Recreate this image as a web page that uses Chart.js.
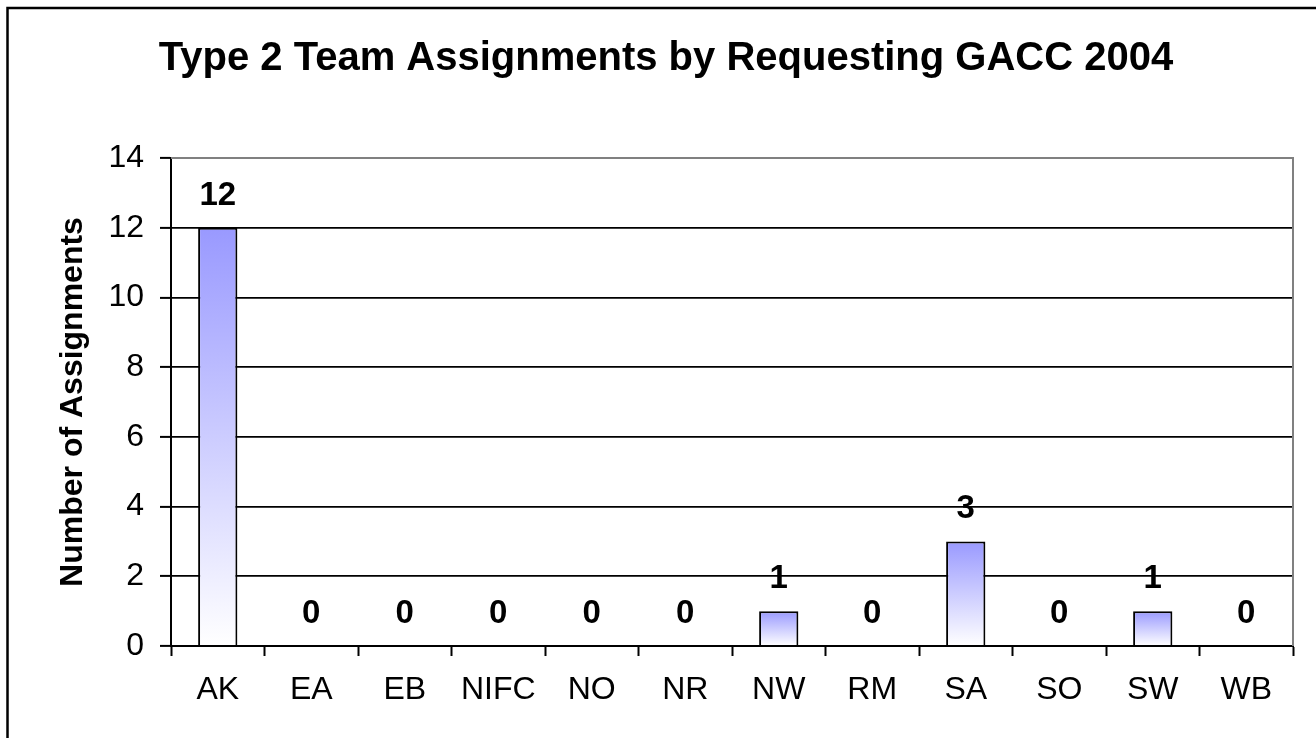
<!DOCTYPE html>
<html>
<head>
<meta charset="utf-8">
<title>Type 2 Team Assignments by Requesting GACC 2004</title>
<script src="https://cdn.jsdelivr.net/npm/chart.js@4.4.1/dist/chart.umd.min.js"></script>
<style>
    html, body { margin: 0; padding: 0; background: #fff; }
    #wrap { width: 1316px; height: 738px; position: relative; }
</style>
</head>
<body>
<div id="wrap"><canvas id="gaccChart" width="1316" height="738"></canvas></div>
<script>
// Chart data
const chartTitle = 'Type 2 Team Assignments by Requesting GACC 2004';
const yAxisTitle = 'Number of Assignments';
const gaccs = ['AK', 'EA', 'EB', 'NIFC', 'NO', 'NR', 'NW', 'RM', 'SA', 'SO', 'SW', 'WB'];
const assignments = [12, 0, 0, 0, 0, 0, 1, 0, 3, 0, 1, 0];
const yTicks = [0, 2, 4, 6, 8, 10, 12, 14];

const FONT = '"Liberation Sans", Arial, Helvetica, sans-serif';

// Vertical gradient per bar: blue at the top, white at the base
function barGradient(ctx) {
    const chart = ctx.chart;
    if (!chart.chartArea || ctx.type !== 'data') return '#9999ff';
    const yScale = chart.scales.y;
    const top = yScale.getPixelForValue(ctx.parsed.y);
    const base = yScale.getPixelForValue(0);
    if (Math.abs(base - top) < 1) return '#ffffff';
    const g = chart.ctx.createLinearGradient(0, top, 0, base);
    g.addColorStop(0, '#9999ff');
    g.addColorStop(1, '#ffffff');
    return g;
}

// Outer frame, plot border and title
const framePlugin = {
    id: 'frame',
    beforeDraw(chart) {
        const c = chart.ctx;
        c.save();
        c.fillStyle = '#fff';
        c.fillRect(0, 0, chart.width, chart.height);
        c.strokeStyle = '#000';
        c.lineWidth = 2.5;
        c.beginPath();
        c.moveTo(7.5, chart.height + 5);
        c.lineTo(7.5, 8);
        c.lineTo(chart.width + 5, 8);
        c.stroke();
        c.restore();
    },
    afterDraw(chart) {
        const c = chart.ctx;
        const a = chart.chartArea;
        c.save();
        c.strokeStyle = '#808080';
        c.lineWidth = 2;
        c.beginPath();
        c.moveTo(a.left, a.top);
        c.lineTo(a.right, a.top);
        c.lineTo(a.right, a.bottom);
        c.stroke();

        c.fillStyle = '#000';
        c.font = 'bold 40px ' + FONT;
        c.textAlign = 'center';
        c.textBaseline = 'alphabetic';
        c.fillText(chartTitle, 666, 70);
        c.restore();
    }
};

// Value labels above each bar
const valueLabels = {
    id: 'valueLabels',
    afterDatasetsDraw(chart) {
        const c = chart.ctx;
        const meta = chart.getDatasetMeta(0);
        c.save();
        c.fillStyle = '#000';
        c.font = 'bold 33px ' + FONT;
        c.textAlign = 'center';
        c.textBaseline = 'alphabetic';
        meta.data.forEach((bar, i) => {
            c.fillText(String(assignments[i]), bar.x, bar.y - 23);
        });
        c.restore();
    }
};

const ctx = document.getElementById('gaccChart');
new Chart(ctx, {
    type: 'bar',
    data: {
        labels: gaccs,
        datasets: [{
            data: assignments,
            backgroundColor: barGradient,
            borderColor: '#000',
            borderWidth: 2,
            borderSkipped: 'start',
            barPercentage: 0.42,
            categoryPercentage: 1
        }]
    },
    options: {
        responsive: false,
        animation: false,
        devicePixelRatio: 1,
        layout: { padding: { top: 158, left: 8, right: 23, bottom: 0 } },
        plugins: {
            legend: { display: false },
            tooltip: { enabled: false },
            title: { display: false }
        },
        scales: {
            x: {
                grid: {
                    drawOnChartArea: false,
                    drawTicks: true,
                    tickLength: 10,
                    tickColor: '#000',
                    tickWidth: 2
                },
                border: { color: '#000', width: 2 },
                ticks: {
                    color: '#000',
                    font: { family: FONT, size: 32 },
                    padding: 15,
                    maxRotation: 0,
                    autoSkip: false
                },
                afterFit(scale) { scale.height = 92; }
            },
            y: {
                min: 0,
                max: 14,
                afterBuildTicks(scale) {
                    scale.ticks = yTicks.map(v => ({ value: v }));
                },
                grid: {
                    color: '#000',
                    lineWidth: 1.8,
                    tickLength: 11,
                    tickColor: '#000',
                    tickWidth: 2
                },
                border: { color: '#000', width: 2 },
                ticks: {
                    color: '#000',
                    font: { family: FONT, size: 32 },
                    padding: 16
                },
                title: {
                    display: true,
                    text: yAxisTitle,
                    color: '#000',
                    font: { family: FONT, size: 32, weight: 'bold' },
                    padding: { top: 46, bottom: 0 }
                },
                afterFit(scale) { scale.width = 163; }
            }
        }
    },
    plugins: [framePlugin, valueLabels]
});
</script>
</body>
</html>
